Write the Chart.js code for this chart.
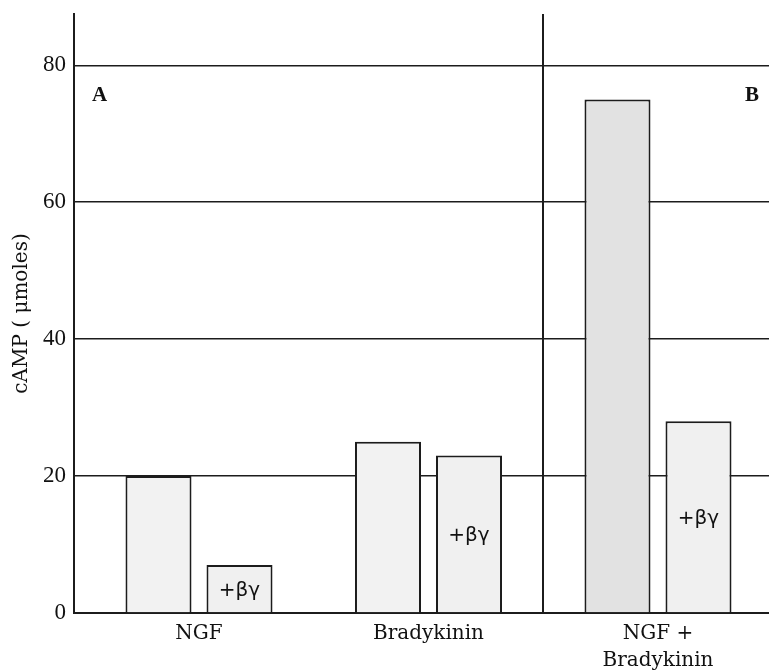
<!DOCTYPE html>
<html>
<head>
<meta charset="utf-8">
<script src="https://cdn.jsdelivr.net/npm/chart.js@4.4.0/dist/chart.umd.min.js"></script>
<style>
  html, body { margin: 0; padding: 0; background: #fff; overflow: hidden; }
  #wrap { width: 769px; height: 670px; }
</style>
</head>
<body>
<div id="wrap"><canvas id="chart-camp" width="769" height="670"></canvas></div>
<script>
// categorie e valori
const categories = ['NGF', 'Bradykinin', ['NGF +', 'Bradykinin']];
const controlValues = [20, 25, 75];
const betaGammaValues = [7, 23, 28];
const panelLabels = ['A', 'B'];
const betaLabel = '+\u03b2\u03b3';
const yTitle = 'cAMP ( \u03bcmoles)';

const ink = '#1c1c1c';

// testi sovrapposti: lettere dei pannelli e "+βγ" dentro le barre
const overlayText = {
    id: 'overlayText',
    afterDatasetsDraw(chart) {
        const { ctx, chartArea } = chart;
        ctx.save();
        ctx.fillStyle = '#111';
        ctx.textBaseline = 'middle';
        ctx.font = 'bold 21px "Liberation Serif"';
        ctx.textAlign = 'left';
        ctx.fillText(panelLabels[0], chartArea.left + 18, chartArea.top + 82);
        ctx.textAlign = 'right';
        ctx.fillText(panelLabels[1], chartArea.right - 10, chartArea.top + 82);

        ctx.font = '20px "DejaVu Sans"';
        ctx.textAlign = 'center';
        chart.getDatasetMeta(1).data.forEach(bar => {
            ctx.fillText(betaLabel, bar.x, (bar.y + bar.base) / 2 + 2);
        });
        ctx.restore();
    }
};

const ctx = document.getElementById('chart-camp').getContext('2d');
new Chart(ctx, {
    type: 'bar',
    data: {
        datasets: [{
            label: 'control',
            data: controlValues.map((v, i) => ({ x: i, y: v })),
            backgroundColor: ['#f2f2f2', '#f2f2f2', '#e2e2e2'],
            borderColor: ink,
            borderWidth: 2,
            categoryPercentage: 0.706,
            barPercentage: 0.815
        }, {
            label: '+\u03b2\u03b3',
            data: betaGammaValues.map((v, i) => ({ x: i, y: v })),
            backgroundColor: '#f0f0f0',
            borderColor: ink,
            borderWidth: 2,
            categoryPercentage: 0.706,
            barPercentage: 0.815
        }]
    },
    options: {
        responsive: false,
        devicePixelRatio: 1,
        animation: false,
        layout: { padding: { top: 14, left: 0, right: 0, bottom: 0 } },
        plugins: {
            legend: { display: false },
            tooltip: { enabled: false }
        },
        scales: {
            x: {
                type: 'linear',
                offset: false,
                min: -0.5447,
                max: 2.4837,
                border: { display: true, color: ink, width: 2 },
                grid: {
                    offset: true,
                    drawTicks: false,
                    lineWidth: 2,
                    // solo la linea che separa il pannello B
                    color: (c) => c.index === 2 ? ink : 'rgba(0,0,0,0)'
                },
                ticks: {
                    stepSize: 1,
                    includeBounds: false,
                    autoSkip: false,
                    maxRotation: 0,
                    padding: 7,
                    color: '#111',
                    font: { family: '"DejaVu Serif"', size: 20, lineHeight: 1.35 },
                    callback: (value) => Number.isInteger(value) ? (categories[value] ?? '') : ''
                },
                afterFit: (scale) => {
                    scale.height = 57;
                    scale.paddingLeft = 0;
                    scale.paddingRight = 0;
                }
            },
            y: {
                min: 0,
                max: 87.5,
                border: { display: true, color: ink, width: 2 },
                grid: { color: ink, lineWidth: 1.6, drawTicks: false },
                ticks: {
                    stepSize: 20,
                    includeBounds: false,
                    padding: 8,
                    color: '#111',
                    font: { family: '"Liberation Serif"', size: 23 }
                },
                title: {
                    display: true,
                    text: yTitle,
                    color: '#111',
                    padding: { top: 10, bottom: 0 },
                    font: { family: '"DejaVu Serif"', size: 20 }
                },
                afterFit: (scale) => {
                    scale.width = 74;
                    scale.paddingTop = 0;
                    scale.paddingBottom = 0;
                }
            }
        }
    },
    plugins: [overlayText]
});
</script>
</body>
</html>
